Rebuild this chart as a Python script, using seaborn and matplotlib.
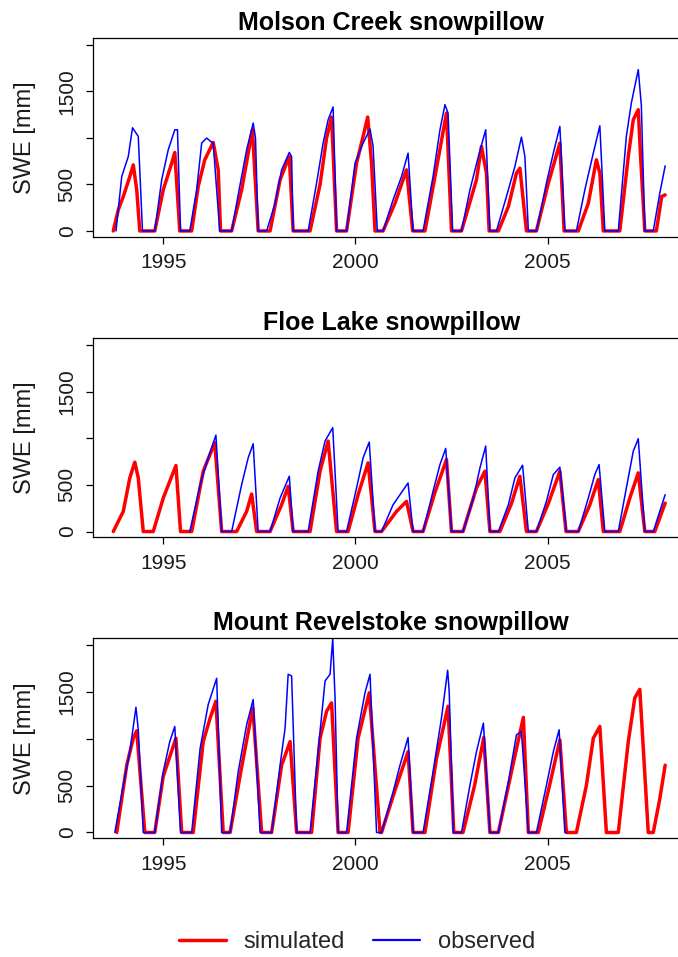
import numpy as np
import pandas as pd
import matplotlib
matplotlib.use("Agg")
import matplotlib.pyplot as plt
from matplotlib.lines import Line2D
import seaborn as sns

# ---------------- data (decimal year, SWE mm) ----------------
titles = ["Molson Creek snowpillow", "Floe Lake snowpillow", "Mount Revelstoke snowpillow"]
series_labels = ["simulated", "observed"]
xticks = [1995, 2000, 2005]
yticks = [0, 500, 1000, 1500, 2000]
ytick_labels = ["0", "500", "", "1500", ""]

molson_obs_t = [1993.77, 1993.92, 1994.09, 1994.20, 1994.35, 1994.46,
                1994.78, 1994.96, 1995.13, 1995.30, 1995.37, 1995.45,
                1995.69, 1995.87, 1996.00, 1996.13, 1996.30, 1996.47,
                1996.78, 1996.99, 1997.17, 1997.34, 1997.40, 1997.47,
                1997.69, 1997.91, 1998.08, 1998.28, 1998.34, 1998.38,
                1998.77, 1998.99, 1999.16, 1999.29, 1999.42, 1999.51,
                1999.77, 1999.99, 2000.20, 2000.38, 2000.46, 2000.57,
                2000.72, 2000.98, 2001.20, 2001.37, 2001.50,
                2001.76, 2002.02, 2002.20, 2002.33, 2002.41, 2002.53,
                2002.76, 2002.98, 2003.20, 2003.39, 2003.50,
                2003.67, 2003.93, 2004.15, 2004.32, 2004.41, 2004.50,
                2004.71, 2004.97, 2005.15, 2005.32, 2005.45,
                2005.75, 2005.97, 2006.19, 2006.36, 2006.49,
                2006.84, 2007.05, 2007.18, 2007.36, 2007.44, 2007.53,
                2007.75, 2007.92, 2008.06]
molson_obs_v = [0, 585, 800, 1110, 1017, 0,
                0, 550, 873, 1088, 1088, 0,
                0, 442, 945, 999, 940, 0,
                0, 478, 873, 1160, 1000, 0,
                0, 298, 657, 844, 800, 0,
                0, 514, 945, 1196, 1333, 0,
                0, 729, 945, 1096, 910, 0,
                0, 334, 585, 837, 0,
                0, 585, 1088, 1358, 1268, 0,
                0, 442, 801, 1088, 0,
                0, 370, 693, 1009, 801, 0,
                0, 514, 837, 1124, 0,
                0, 442, 837, 1131, 0,
                0, 1017, 1376, 1735, 1350, 0,
                0, 406, 700]

molson_sim_t = [1993.70, 1993.83, 1993.96, 1994.13, 1994.22, 1994.31, 1994.39,
                1994.78, 1995.00, 1995.22, 1995.30, 1995.43,
                1995.74, 1995.91, 1996.08, 1996.30, 1996.43, 1996.49,
                1996.78, 1997.04, 1997.32, 1997.47,
                1997.78, 1998.04, 1998.28, 1998.38,
                1998.82, 1999.08, 1999.25, 1999.38, 1999.51,
                1999.77, 2000.03, 2000.20, 2000.32, 2000.42, 2000.51,
                2000.72, 2001.03, 2001.24, 2001.33, 2001.49,
                2001.81, 2002.07, 2002.37, 2002.50,
                2002.76, 2003.15, 2003.28, 2003.41, 2003.48,
                2003.72, 2003.98, 2004.19, 2004.28, 2004.45,
                2004.71, 2005.02, 2005.32, 2005.43,
                2005.80, 2006.06, 2006.27, 2006.36, 2006.45,
                2006.88, 2007.10, 2007.23, 2007.36, 2007.42, 2007.53,
                2007.83, 2007.97, 2008.06]
molson_sim_v = [0, 226, 370, 585, 711, 442, 0,
                0, 442, 729, 844, 0,
                0, 478, 765, 952, 657, 0,
                0, 442, 1088, 0,
                0, 550, 801, 0,
                0, 500, 1000, 1225, 0,
                0, 729, 1017, 1225, 729, 0,
                0, 298, 550, 657, 0,
                0, 585, 1268, 0,
                0, 550, 909, 621, 0,
                0, 262, 621, 675, 0,
                0, 514, 945, 0,
                0, 298, 765, 621, 0,
                0, 801, 1196, 1304, 801, 0,
                0, 370, 388]

floe_obs_t = [1995.69, 1995.96, 1996.17, 1996.37, 1996.52,
              1996.78, 1997.04, 1997.21, 1997.34, 1997.47,
              1997.78, 1998.04, 1998.28, 1998.38,
              1998.77, 1999.03, 1999.21, 1999.41, 1999.55,
              1999.77, 2000.03, 2000.20, 2000.36, 2000.51,
              2000.68, 2000.98, 2001.37, 2001.50,
              2001.76, 2002.02, 2002.20, 2002.35, 2002.50,
              2002.80, 2003.07, 2003.24, 2003.39, 2003.50,
              2003.72, 2003.98, 2004.15, 2004.35, 2004.50,
              2004.71, 2004.97, 2005.15, 2005.32, 2005.49,
              2005.80, 2006.06, 2006.23, 2006.34, 2006.49,
              2006.84, 2007.05, 2007.23, 2007.36, 2007.53,
              2007.75, 2008.06]
floe_obs_v = [0, 503, 790, 1034, 0,
              0, 503, 790, 941, 0,
              0, 359, 593, 0,
              0, 647, 970, 1114, 0,
              0, 467, 790, 959, 0,
              0, 287, 521, 0,
              0, 431, 718, 891, 0,
              0, 359, 682, 916, 0,
              0, 287, 575, 711, 0,
              0, 323, 611, 690, 0,
              0, 359, 611, 718, 0,
              0, 467, 862, 995, 0,
              0, 395]

floe_sim_t = [1993.70, 1993.96, 1994.13, 1994.26, 1994.35, 1994.48,
              1994.74, 1995.00, 1995.33, 1995.45,
              1995.74, 1996.04, 1996.34, 1996.52,
              1996.91, 1997.17, 1997.30, 1997.43,
              1997.78, 1998.08, 1998.25, 1998.38,
              1998.82, 1999.08, 1999.29, 1999.51,
              1999.81, 2000.07, 2000.33, 2000.51,
              2000.68, 2001.07, 2001.33, 2001.50,
              2001.76, 2002.07, 2002.37, 2002.50,
              2002.80, 2003.15, 2003.37, 2003.50,
              2003.76, 2004.06, 2004.28, 2004.45,
              2004.71, 2005.02, 2005.32, 2005.48,
              2005.80, 2006.10, 2006.32, 2006.45,
              2006.88, 2007.14, 2007.36, 2007.53,
              2007.79, 2008.06]
floe_sim_v = [0, 216, 575, 744, 575, 0,
              0, 359, 708, 0,
              0, 647, 952, 0,
              0, 216, 402, 0,
              0, 287, 485, 0,
              0, 647, 970, 0,
              0, 395, 736, 0,
              0, 216, 323, 0,
              0, 420, 772, 0,
              0, 467, 647, 0,
              0, 300, 593, 0,
              0, 300, 647, 0,
              0, 287, 557, 0,
              0, 359, 629, 0,
              0, 305]

revel_obs_t = [1993.74, 1993.96, 1994.13, 1994.29, 1994.35, 1994.48,
               1994.78, 1995.00, 1995.17, 1995.30, 1995.45,
               1995.74, 1995.96, 1996.17, 1996.39, 1996.52,
               1996.74, 1996.95, 1997.17, 1997.34, 1997.52,
               1997.82, 1998.04, 1998.17, 1998.25, 1998.34, 1998.47,
               1998.82, 1999.08, 1999.21, 1999.34, 1999.41, 1999.47, 1999.55,
               1999.77, 2000.03, 2000.25, 2000.38, 2000.55,
               2000.68, 2000.98, 2001.16, 2001.37, 2001.50,
               2001.76, 2002.02, 2002.24, 2002.40, 2002.44, 2002.55,
               2002.76, 2002.98, 2003.15, 2003.33, 2003.50,
               2003.72, 2003.98, 2004.19, 2004.32, 2004.50,
               2004.71, 2004.97, 2005.15, 2005.30, 2005.45, 2005.50]
revel_obs_v = [0, 503, 862, 1336, 1100, 0,
               0, 647, 970, 1131, 0,
               0, 898, 1365, 1645, 0,
               0, 647, 1149, 1419, 0,
               0, 718, 1114, 1688, 1670, 0,
               0, 1078, 1616, 1688, 2065, 1437, 0,
               0, 1006, 1491, 1688, 0,
               0, 431, 718, 1013, 0,
               0, 647, 1221, 1731, 1509, 0,
               0, 503, 862, 1167, 0,
               0, 539, 1042, 1078, 0,
               0, 503, 862, 1096, 0, 0]

revel_sim_t = [1993.79, 1994.05, 1994.22, 1994.31, 1994.52,
               1994.78, 1995.00, 1995.33, 1995.48,
               1995.78, 1996.04, 1996.22, 1996.37, 1996.56,
               1996.74, 1997.04, 1997.33, 1997.56,
               1997.82, 1998.08, 1998.30, 1998.47,
               1998.86, 1999.08, 1999.25, 1999.38, 1999.55,
               1999.81, 2000.07, 2000.36, 2000.64,
               2000.68, 2001.03, 2001.37, 2001.50,
               2001.81, 2002.11, 2002.41, 2002.56,
               2002.80, 2003.10, 2003.34, 2003.50,
               2003.72, 2004.06, 2004.37, 2004.50,
               2004.76, 2005.05, 2005.32, 2005.49,
               2005.75, 2006.01, 2006.19, 2006.36, 2006.53,
               2006.84, 2007.10, 2007.27, 2007.40, 2007.62,
               2007.75, 2007.92, 2008.06]
revel_sim_v = [0, 718, 1006, 1085, 0,
               0, 600, 1006, 0,
               0, 970, 1221, 1401, 0,
               0, 700, 1329, 0,
               0, 718, 970, 0,
               0, 1006, 1293, 1383, 0,
               0, 1006, 1491, 0,
               0, 450, 862, 0,
               0, 790, 1347, 0,
               0, 500, 1013, 0,
               0, 647, 1228, 0,
               0, 500, 988, 0,
               0, 503, 1006, 1131, 0,
               0, 970, 1437, 1527, 0,
               0, 359, 718]

panels = [
    (molson_sim_t, molson_sim_v, molson_obs_t, molson_obs_v),
    (floe_sim_t, floe_sim_v, floe_obs_t, floe_obs_v),
    (revel_sim_t, revel_sim_v, revel_obs_t, revel_obs_v),
]

# ---------------- style ----------------
sns.set_theme(style="white")
plt.rcParams["font.family"] = ["Liberation Sans", "DejaVu Sans"]
plt.rcParams["axes.edgecolor"] = "black"
plt.rcParams["axes.linewidth"] = 0.9

W, H = 678, 957
fig = plt.figure(figsize=(W / 100, H / 100), dpi=100)

left_px, right_px = 93.3, 689.0
tops = [38.3, 338.3, 638.3]
bottoms = [236.7, 537.3, 838.3]

RED = "#FF0000"
BLUE = "#0000FF"

for i, (st, sv, ot, ov) in enumerate(panels):
    ax = fig.add_axes([left_px / W, 1 - bottoms[i] / H,
                       (right_px - left_px) / W, (bottoms[i] - tops[i]) / H])
    sim_df = pd.DataFrame({"t": st, "v": sv})
    obs_df = pd.DataFrame({"t": ot, "v": ov})
    sns.lineplot(data=sim_df, x="t", y="v", ax=ax, color=RED, linewidth=2.5,
                 estimator=None, sort=False)
    sns.lineplot(data=obs_df, x="t", y="v", ax=ax, color=BLUE, linewidth=1.1,
                 estimator=None, sort=False)
    ax.set_xlim(1993.18, 2008.68)
    ax.set_ylim(-62, 2072)
    ax.set_xticks(xticks)
    ax.set_xticklabels([str(x) for x in xticks])
    ax.set_yticks(yticks)
    ax.set_yticklabels(ytick_labels, rotation=90, va="center")
    ax.tick_params(axis="both", direction="out", length=5, width=0.9,
                   color="black", labelsize=15, labelcolor="#1a1a1a", pad=7)
    ax.tick_params(axis="x", bottom=True)
    ax.tick_params(axis="y", left=True)
    ax.set_xlabel("")
    ax.set_ylabel("SWE [mm]", fontsize=17, color="#1a1a1a")
    ax.yaxis.set_label_coords(-0.097, 0.5)
    ax.set_title(titles[i], fontsize=18, fontweight="bold", pad=6, color="black")
    for s in ax.spines.values():
        s.set_visible(True)
        s.set_color("black")
        s.set_linewidth(0.9)

handles = [Line2D([0], [0], color=RED, linewidth=2.5),
           Line2D([0], [0], color=BLUE, linewidth=1.6)]
fig.legend(handles, series_labels, loc="center", bbox_to_anchor=(357 / W, 1 - 942 / H),
           ncol=2, frameon=False, fontsize=17, handlelength=2.0,
           handletextpad=0.75, columnspacing=1.2)

fig.savefig("out.png", dpi=100)
